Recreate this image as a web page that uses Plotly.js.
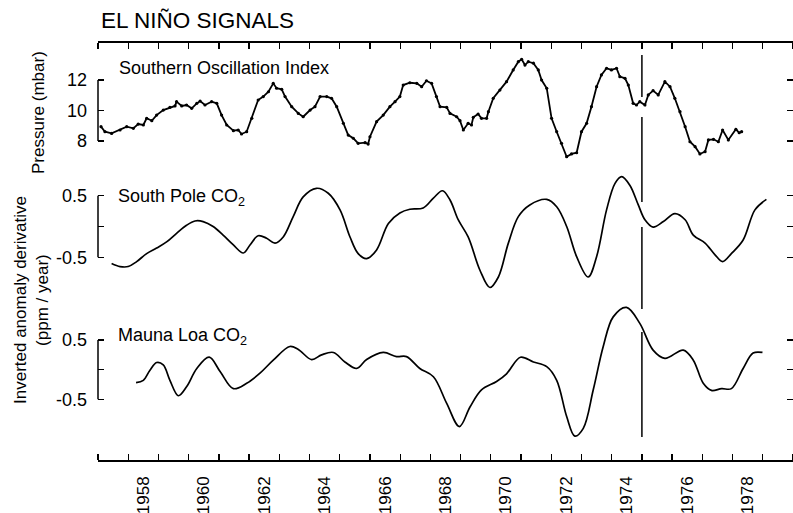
<!DOCTYPE html>
<html>
<head>
<meta charset="utf-8">
<script src="https://cdn.plot.ly/plotly-3.0.1.min.js"></script>
<style>
  html, body { margin: 0; padding: 0; background: #ffffff; }
  #chart { width: 793px; height: 513px; }
</style>
</head>
<body>
<div id="chart"></div>
<script>
// ---------------- data ----------------
const soiYears = [1957.10,1957.23,1957.45,1957.73,1957.95,1958.17,1958.33,1958.50,1958.61,1958.78,
  1958.94,1959.16,1959.38,1959.55,1959.60,1959.77,1959.93,1960.10,1960.27,1960.38,
  1960.54,1960.76,1960.93,1961.09,1961.26,1961.48,1961.64,1961.75,1961.92,1962.09,
  1962.30,1962.47,1962.64,1962.80,1962.91,1963.08,1963.19,1963.41,1963.63,1963.79,
  1964.02,1964.18,1964.35,1964.57,1964.73,1964.90,1965.12,1965.28,1965.45,1965.61,
  1965.84,1965.94,1966.00,1966.22,1966.44,1966.66,1966.83,1966.99,1967.10,1967.32,
  1967.55,1967.71,1967.87,1968.04,1968.20,1968.32,1968.54,1968.65,1968.87,1968.98,
  1969.09,1969.25,1969.36,1969.42,1969.58,1969.69,1969.86,1969.92,1970.08,1970.30,
  1970.52,1970.74,1970.91,1971.02,1971.13,1971.24,1971.41,1971.57,1971.68,1971.85,
  1972.01,1972.18,1972.34,1972.51,1972.67,1972.84,1973.00,1973.17,1973.33,1973.50,
  1973.66,1973.83,1973.99,1974.16,1974.27,1974.44,1974.55,1974.71,1974.82,1974.93,
  1975.10,1975.21,1975.37,1975.54,1975.76,1975.93,1976.09,1976.26,1976.43,1976.59,
  1976.76,1976.92,1977.09,1977.20,1977.37,1977.53,1977.67,1977.86,1978.11,1978.22,
  1978.30];
const soiValues = [8.94,8.61,8.50,8.72,8.94,8.83,9.11,9.05,9.49,9.33,
  9.70,10.03,10.21,10.30,10.58,10.30,10.36,10.14,10.47,10.62,
  10.36,10.58,10.47,9.70,9.05,8.68,8.72,8.46,8.61,9.49,
  10.69,10.91,11.23,11.78,11.46,11.39,10.91,10.25,9.81,9.59,
  10.03,10.25,10.91,10.91,10.80,10.25,9.16,8.39,8.18,7.85,
  7.89,7.80,8.28,9.27,9.70,10.25,10.58,10.91,11.67,11.82,
  11.78,11.56,11.95,11.78,10.91,10.25,10.21,9.81,9.59,9.33,
  8.72,9.16,9.05,9.55,9.77,9.49,9.49,9.92,10.80,11.34,
  11.89,12.66,13.20,13.36,12.98,13.20,13.10,12.66,12.00,11.46,
  9.49,8.61,7.85,6.97,7.15,7.23,8.61,9.16,10.25,11.56,
  12.33,12.77,12.66,12.77,12.22,12.11,11.67,10.47,10.36,10.58,
  10.36,11.02,11.30,11.02,11.89,11.56,10.80,9.92,8.94,7.95,
  7.63,7.15,7.30,8.07,8.11,7.95,8.72,8.07,8.77,8.54,
  8.61];

const southPoleYears = [1957.45,1957.73,1958.00,1958.28,1958.61,1958.94,1959.27,1959.60,1959.93,1960.21,
  1960.48,1960.81,1961.14,1961.48,1961.81,1962.03,1962.30,1962.58,1962.86,1963.13,
  1963.46,1963.79,1964.23,1964.62,1965.01,1965.34,1965.61,1965.89,1966.22,1966.61,
  1966.99,1967.32,1967.76,1968.10,1968.40,1968.65,1968.92,1969.25,1969.64,1969.97,
  1970.25,1970.58,1970.91,1971.29,1971.85,1972.18,1972.51,1972.84,1973.22,1973.50,
  1973.83,1974.11,1974.33,1974.60,1974.88,1975.10,1975.37,1975.71,1976.09,1976.43,
  1976.70,1977.09,1977.42,1977.67,1977.96,1978.35,1978.74,1979.12];
const southPoleValues = [-0.60,-0.65,-0.65,-0.57,-0.44,-0.35,-0.25,-0.11,0.02,0.09,
  0.08,0.00,-0.14,-0.30,-0.43,-0.30,-0.15,-0.19,-0.27,-0.17,
  0.16,0.48,0.62,0.54,0.27,-0.17,-0.44,-0.52,-0.38,0.05,
  0.22,0.28,0.30,0.46,0.58,0.43,0.11,-0.17,-0.71,-0.99,
  -0.82,-0.27,0.16,0.35,0.44,0.32,0.00,-0.49,-0.82,-0.49,
  0.27,0.70,0.81,0.67,0.35,0.11,-0.01,0.08,0.21,0.11,
  -0.14,-0.27,-0.46,-0.57,-0.44,-0.22,0.27,0.44];

const maunaLoaYears = [1958.26,1958.50,1958.72,1958.94,1959.16,1959.38,1959.66,1959.93,1960.27,1960.68,
  1961.04,1961.48,1961.92,1962.36,1962.80,1963.35,1963.63,1964.07,1964.40,1964.79,
  1965.17,1965.56,1965.89,1966.44,1966.88,1967.21,1967.65,1968.10,1968.54,1968.96,
  1969.31,1969.69,1970.19,1970.52,1970.98,1971.41,1971.85,1972.18,1972.51,1972.78,
  1973.06,1973.39,1973.72,1974.05,1974.49,1974.93,1975.37,1975.76,1976.37,1976.70,
  1977.03,1977.30,1977.64,1977.96,1978.35,1978.68,1978.99];
const maunaLoaValues = [-0.22,-0.18,-0.01,0.12,0.08,-0.18,-0.44,-0.29,0.02,0.21,
  -0.03,-0.32,-0.23,-0.06,0.16,0.39,0.34,0.17,0.25,0.29,
  0.13,0.02,0.17,0.29,0.22,0.22,0.02,-0.12,-0.57,-0.96,
  -0.63,-0.34,-0.20,-0.07,0.21,0.13,0.05,-0.18,-0.79,-1.12,
  -0.99,-0.34,0.39,0.89,1.05,0.78,0.33,0.19,0.33,0.16,
  -0.23,-0.35,-0.32,-0.32,0.02,0.28,0.29];

const yearTicks = [1957,1958,1959,1960,1961,1962,1963,1964,1965,1966,1967,1968,
  1969,1970,1971,1972,1973,1974,1975,1976,1977,1978,1979,1980];
const yearLabels = ['1958','1960','1962','1964','1966','1968','1970','1972','1974','1976','1978'];
const soiTicks = [8, 10, 12];
const co2LabelTicks = [-0.5, 0.5];
const co2LabelText = ['-0.5', '0.5'];
const co2ZeroTick = [0];
const markerYear = [1975.0];

// ---------------- layout helpers ----------------
const FONT = 'Liberation Sans, Arial, Helvetica, sans-serif';
const W = 793, H = 513;
const M = {l: 98, r: 0, t: 43, b: 53};
const plotH = H - M.t - M.b;
const plotW = W - M.l - M.r;
const py = p => (H - M.b - p) / plotH;   // pixel row -> paper y
const px = p => (p - M.l) / plotW;        // pixel col -> paper x

const labelPositions = yearLabels.map(s => Number(s) + 0.5);

const traces = [
  {
    x: soiYears, y: soiValues, yaxis: 'y', type: 'scatter', mode: 'lines+markers',
    line: {color: '#000', width: 1.8}, marker: {color: '#000', size: 3.2},
    hoverinfo: 'skip', showlegend: false
  },
  {
    x: southPoleYears, y: southPoleValues, yaxis: 'y2', type: 'scatter', mode: 'lines',
    line: {color: '#000', width: 1.7, shape: 'spline', smoothing: 1.0},
    hoverinfo: 'skip', showlegend: false
  },
  {
    x: maunaLoaYears, y: maunaLoaValues, yaxis: 'y3', type: 'scatter', mode: 'lines',
    line: {color: '#000', width: 1.7, shape: 'spline', smoothing: 1.0},
    hoverinfo: 'skip', showlegend: false
  }
];

const yCommon = {
  domain: [0, 1], showgrid: false, zeroline: false, showline: false,
  ticks: 'inside', ticklen: 6, tickwidth: 1.3, tickcolor: '#000',
  mirror: 'ticks', ticklabelstandoff: 10, fixedrange: true,
  tickfont: {family: FONT, size: 18, color: '#000'}
};
const zeroMinor = {tickmode: 'array', tickvals: co2ZeroTick, ticks: 'inside', ticklen: 6,
  tickwidth: 1.3, tickcolor: '#000', showgrid: false};

// vertical marker line, broken where it crosses the curves
const vSegments = [[55, 97], [117, 202], [227, 309], [332, 437]];
const shapes = [];
vSegments.forEach(s => shapes.push({
  type: 'line', xref: 'x', yref: 'paper', x0: markerYear[0], x1: markerYear[0],
  y0: py(s[0]), y1: py(s[1]), line: {color: '#000', width: 1.5}
}));
// left bracket axis lines spanning only the labelled range
shapes.push({type: 'line', xref: 'paper', yref: 'y', x0: 0, x1: 0, y0: soiTicks[0], y1: soiTicks[2], line: {color: '#000', width: 1.5}});
shapes.push({type: 'line', xref: 'paper', yref: 'y2', x0: 0, x1: 0, y0: co2LabelTicks[0], y1: co2LabelTicks[1], line: {color: '#000', width: 1.5}});
shapes.push({type: 'line', xref: 'paper', yref: 'y3', x0: 0, x1: 0, y0: co2LabelTicks[0], y1: co2LabelTicks[1], line: {color: '#000', width: 1.5}});

const annFont = {family: FONT, size: 18, color: '#000'};
const titleFont = {family: FONT, size: 17, color: '#000'};
const annotations = [
  {text: 'Southern Oscillation Index', xref: 'paper', yref: 'paper', x: px(117), y: py(68),
   xanchor: 'left', yanchor: 'middle', showarrow: false, font: annFont},
  {text: 'South Pole CO<sub>2</sub>', xref: 'paper', yref: 'paper', x: px(116), y: py(197),
   xanchor: 'left', yanchor: 'middle', showarrow: false, font: annFont},
  {text: 'Mauna Loa CO<sub>2</sub>', xref: 'paper', yref: 'paper', x: px(116), y: py(336),
   xanchor: 'left', yanchor: 'middle', showarrow: false, font: annFont},
  {text: 'Pressure (mbar)', xref: 'paper', yref: 'paper', x: px(39), y: py(113),
   xanchor: 'center', yanchor: 'middle', textangle: -90, showarrow: false, font: titleFont},
  {text: 'Inverted anomaly derivative<br>(ppm / year)', xref: 'paper', yref: 'paper', x: px(31), y: py(300),
   xanchor: 'center', yanchor: 'middle', textangle: -90, showarrow: false, font: titleFont}
];

const layout = {
  width: W, height: H,
  margin: M,
  paper_bgcolor: '#fff', plot_bgcolor: '#fff',
  showlegend: false,
  title: {
    text: 'EL NIÑO SIGNALS', xref: 'container', yref: 'container',
    x: 101 / W, xanchor: 'left', y: 1 - 20 / H, yanchor: 'middle',
    font: {family: FONT, size: 22.5, color: '#000'}
  },
  xaxis: {
    range: [yearTicks[0], yearTicks[yearTicks.length - 1]],
    showgrid: false, zeroline: false, fixedrange: true,
    showline: true, linecolor: '#000', linewidth: 1.6, mirror: 'ticks',
    tickmode: 'array', tickvals: labelPositions, ticktext: yearLabels,
    ticks: '', tickangle: -90, ticklabelstandoff: 8,
    tickfont: {family: FONT, size: 17, color: '#000'},
    minor: {tickmode: 'array', tickvals: yearTicks, ticks: 'inside', ticklen: 6,
            tickwidth: 1.3, tickcolor: '#000', showgrid: false}
  },
  yaxis: Object.assign({}, yCommon, {
    range: [8 - (460 - 141) / 15.25, 12 + (80 - 43) / 15.25],
    tickmode: 'array', tickvals: soiTicks, ticktext: soiTicks.map(String)
  }),
  yaxis2: Object.assign({}, yCommon, {
    overlaying: 'y', anchor: 'x', side: 'left',
    range: [-0.5 - (460 - 257.3) / 61.6, 0.5 + (195.7 - 43) / 61.6],
    tickmode: 'array', tickvals: co2LabelTicks, ticktext: co2LabelText,
    minor: zeroMinor
  }),
  yaxis3: Object.assign({}, yCommon, {
    overlaying: 'y', anchor: 'x', side: 'left',
    range: [-0.5 - (460 - 399.3) / 59.3, 0.5 + (340 - 43) / 59.3],
    tickmode: 'array', tickvals: co2LabelTicks, ticktext: co2LabelText,
    minor: zeroMinor
  }),
  shapes: shapes,
  annotations: annotations
};

Plotly.newPlot('chart', traces, layout, {displayModeBar: false, staticPlot: true});
</script>
</body>
</html>
